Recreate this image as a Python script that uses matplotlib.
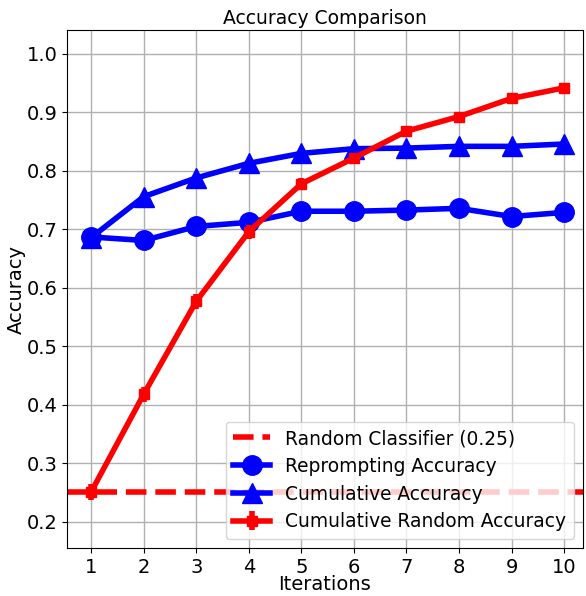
import matplotlib
matplotlib.use("Agg")
import matplotlib.pyplot as plt
import numpy as np

iterations = [1, 2, 3, 4, 5, 6, 7, 8, 9, 10]
reprompting = [0.687, 0.681, 0.705, 0.712, 0.731, 0.731, 0.733, 0.736, 0.722, 0.729]
cumulative = [0.686, 0.756, 0.788, 0.813, 0.830, 0.838, 0.839, 0.842, 0.842, 0.846]
cumulative_random = [0.251, 0.418, 0.577, 0.696, 0.778, 0.822, 0.868, 0.893, 0.924, 0.942]
random_err = [0.014, 0.013, 0.013, 0.012, 0.010, 0.009, 0.008, 0.007, 0.006, 0.005]
random_baseline = 0.25

fig = plt.figure(figsize=(5.86, 5.96), dpi=100)
ax = fig.add_axes([67/586, 1-548/596, (583-67)/586, (548-30)/596])

ax.axhline(random_baseline, color='red', linestyle='--', linewidth=4, label='Random Classifier (0.25)')
ax.plot(iterations, reprompting, color='blue', marker='o', markersize=14, linewidth=4, label='Reprompting Accuracy')
ax.plot(iterations, cumulative, color='blue', marker='^', markersize=14, linewidth=4, label='Cumulative Accuracy')
ax.errorbar(iterations, cumulative_random, yerr=random_err, color='red', marker='s', markersize=7,
            linewidth=4, elinewidth=4, label='Cumulative Random Accuracy')

ax.set_xlim(0.54, 10.36)
ax.set_ylim(0.155, 1.041)
ax.set_xticks(iterations)
ax.set_yticks(np.arange(0.2, 1.01, 0.1))
ax.tick_params(labelsize=14)
ax.grid(True, color='#b0b0b0', linewidth=1)
ax.set_xlabel('Iterations', fontsize=14, labelpad=-1)
ax.set_ylabel('Accuracy', fontsize=14, labelpad=0)
ax.set_title('Accuracy Comparison', fontsize=13.5, pad=4)
ax.legend(loc='lower right', fontsize=13.4, handlelength=2.0, borderpad=0.4, labelspacing=0.47)

fig.savefig('out.png', dpi=100)
